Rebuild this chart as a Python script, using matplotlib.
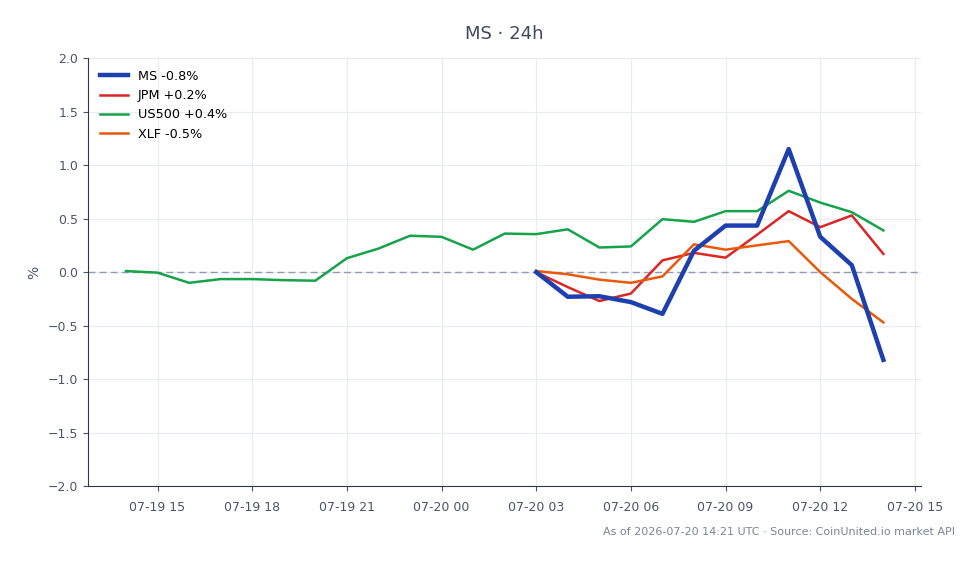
import numpy as np
import pandas as pd
import matplotlib
matplotlib.use("Agg")
import matplotlib.pyplot as plt
import matplotlib.dates as mdates

# hourly % change vs start of window
us500_times = pd.date_range("2026-07-19 14:00", "2026-07-20 14:00", freq="h")
us500 = [0.01, -0.005, -0.10, -0.065, -0.065, -0.075, -0.08, 0.13, 0.22, 0.34,
         0.33, 0.21, 0.36, 0.355, 0.40, 0.23, 0.24, 0.495, 0.47, 0.57,
         0.57, 0.76, 0.65, 0.56, 0.39]

bank_times = pd.date_range("2026-07-20 03:00", "2026-07-20 14:00", freq="h")
ms = [0.0, -0.23, -0.225, -0.28, -0.39, 0.20, 0.435, 0.435, 1.15, 0.33, 0.065, -0.82]
jpm = [0.0, -0.14, -0.27, -0.20, 0.11, 0.18, 0.135, 0.35, 0.57, 0.42, 0.53, 0.17]
xlf = [0.01, -0.02, -0.07, -0.10, -0.04, 0.26, 0.21, 0.25, 0.29, 0.0, -0.25, -0.47]

title = "MS · 24h"
footnote = "As of 2026-07-20 14:21 UTC · Source: CoinUnited.io market API"

txt = "#4a5568"

fig = plt.figure(figsize=(9.79, 5.64), dpi=100)
ax = fig.add_axes([0.09, 0.138, 0.851, 0.759])

ax.axhline(0, color="#8e9bb3", lw=1.0, ls=(0, (5, 3)), zorder=1)
ax.plot(bank_times, ms, color="#1e40af", lw=3.2, label="MS -0.8%", zorder=4)
ax.plot(bank_times, jpm, color="#dc2626", lw=1.8, label="JPM +0.2%", zorder=3)
ax.plot(us500_times, us500, color="#16a34a", lw=1.8, label="US500 +0.4%", zorder=3)
ax.plot(bank_times, xlf, color="#ea580c", lw=1.8, label="XLF -0.5%", zorder=3)

ax.set_ylim(-2.0, 2.0)
ax.set_yticks(np.arange(-2.0, 2.01, 0.5))
ax.xaxis.set_major_locator(mdates.HourLocator(byhour=range(0, 24, 3)))
ax.xaxis.set_major_formatter(mdates.DateFormatter("%m-%d %H"))

ax.grid(True, color="#e8ebf0", lw=0.8)
ax.set_axisbelow(True)
for s in ["top", "right"]:
    ax.spines[s].set_visible(False)
for s in ["left", "bottom"]:
    ax.spines[s].set_color("#2d3748")
ax.tick_params(colors=txt, labelsize=9)
ax.tick_params(axis="x", pad=7)
ax.set_ylabel("%", color=txt, fontsize=10, labelpad=5)

ax.set_title(title, color="#3d4b5f", fontsize=13, pad=14)
ax.legend(loc="upper left", frameon=False, fontsize=9.2, handlelength=2.2)

fig.text(0.975, 0.048, footnote, ha="right", va="bottom", color="#7b8595", fontsize=8)

fig.savefig("out.png", dpi=100)
